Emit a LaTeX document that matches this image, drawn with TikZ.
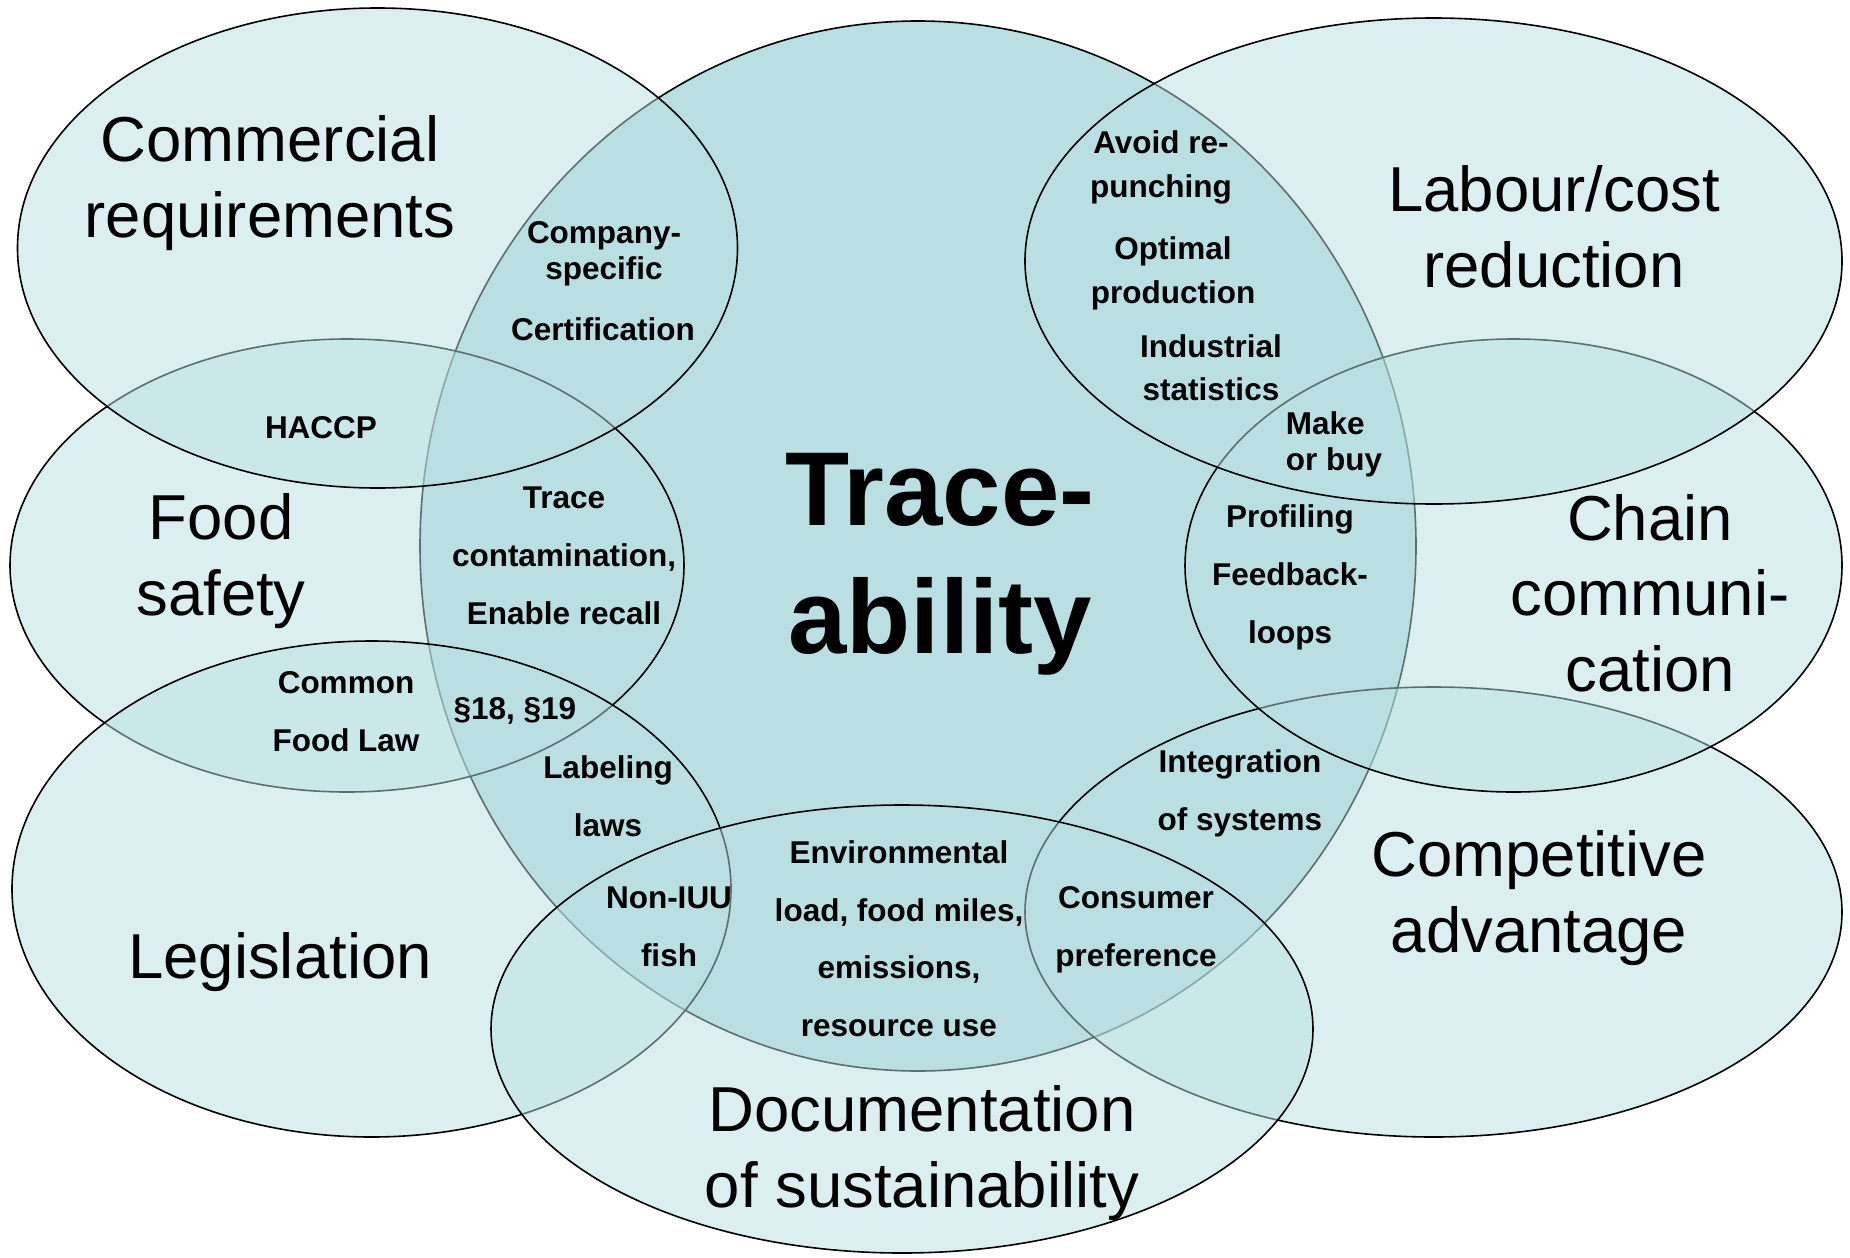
\documentclass[tikz,border=0pt]{standalone}
\usepackage{fontspec}
\setmainfont{Liberation Sans}
\definecolor{venn}{HTML}{B9DFE2}
\begin{document}
\begin{tikzpicture}[x=1pt, y=-1pt,
	core/.style={draw=black, line width=1.6pt, fill=venn},
	area/.style={draw=black, line width=1.6pt, fill=venn, fill opacity=0.5},
	topic/.style={font=\fontsize{63.5}{75.5}\selectfont, align=center, anchor=base},
	item/.style={font=\bfseries\fontsize{31.5}{58}\selectfont, align=center, anchor=base},
	tight/.style={font=\bfseries\fontsize{31.5}{#1}\selectfont}]
	\useasboundingbox (0,0) rectangle (1850,1258);
	\draw [core] (918,546) ellipse [x radius=498, y radius=525];
	\draw [area] (347,565.5) ellipse [x radius=337, y radius=226.5];
	\draw [area] (377.5,248) ellipse [x radius=360, y radius=240];
	\draw [area] (371.5,889) ellipse [x radius=359.5, y radius=248];
	\draw [area] (1433.5,912) ellipse [x radius=408.5, y radius=225];
	\draw [area] (902,1029) ellipse [x radius=411, y radius=224];
	\draw [area] (1513.5,565.5) ellipse [x radius=328.5, y radius=226.5];
	\draw [area] (1433.5,261) ellipse [x radius=408.5, y radius=243];

	\node [topic] (commercial) at (270,237) {Commercial\\requirements};
	\node [topic] (labour) at (1554,287) {Labour/cost\\reduction};
	\node [topic] (food) at (221,615) {Food\\safety};
	\node [topic] (chain) at (1650,691) {Chain\\communi-\\cation};
	\node [topic] (legis) at (280,978) {Legislation};
	\node [topic] (compet) at (1539,952) {Competitive\\advantage};
	\node [topic] (docu) at (922,1207) {Documentation\\of sustainability};
	\node [topic, font=\bfseries\fontsize{105}{128}\selectfont] (trace) at (940,653) {Trace-\\ability};

	\node [item, tight=36] (company) at (604,279) {Company-\\specific};
	\node [item] (cert) at (603,340) {Certification};
	\node [item] (haccp) at (321,438) {HACCP};
	\node [item] (contam) at (564,624) {Trace\\contamination,\\Enable recall};
	\node [item] (common) at (346,751.5) {Common\\Food Law};
	\node [item] (para) at (515,719) {§18, §19};
	\node [item] (labeling) at (608,836) {Labeling\\laws};
	\node [item] (iuu) at (669,966) {Non-IUU\\fish};
	\node [item, tight=57.5] (environ) at (899,1036) {Environmental\\load, food miles,\\emissions,\\resource use};
	\node [item] (consumer) at (1136,966) {Consumer\\preference};
	\node [item] (integ) at (1240,830) {Integration\\of systems};
	\node [item, tight=44] (avoid) at (1161,197) {Avoid re-\\punching};
	\node [item, tight=44] (optimal) at (1173,303) {Optimal\\production};
	\node [item, tight=43] (industry) at (1211,400) {Industrial\\statistics};
	\node [item, tight=36, align=left] (make) at (1334,470) {Make\\or buy};
	\node [item] (profile) at (1290,643) {Profiling\\Feedback-\\loops};
\end{tikzpicture}
\end{document}
